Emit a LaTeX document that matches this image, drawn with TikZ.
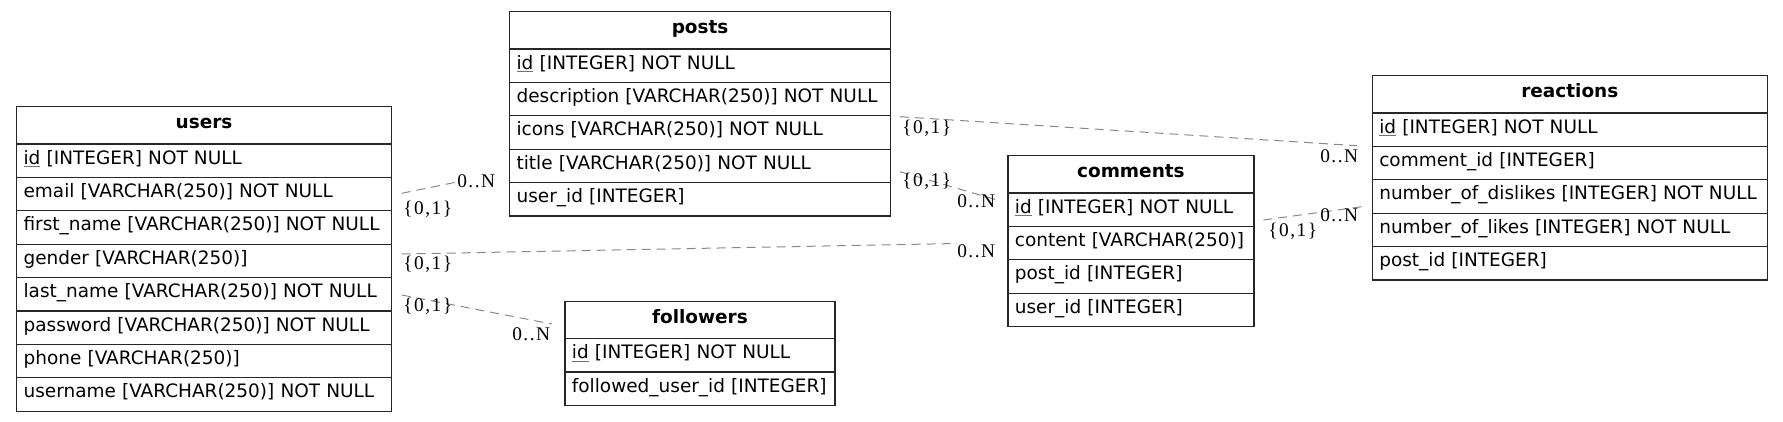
\documentclass[tikz,border=0pt]{standalone}
\usepackage{fontspec}
\setmainfont{DejaVu Sans}
\newfontfamily\lblfont[LetterSpace=8]{Liberation Serif}
\definecolor{edgegray}{HTML}{888888}
\newcommand\keyid{{\setbox0\hbox{id}\rlap{\color{black!55}\rule[-2.1pt]{\wd0}{0.6pt}}\box0}}
\tikzset{
  rowcell/.style={draw=black!85, line width=0.9pt, anchor=north west, inner xsep=5.25pt, inner ysep=0pt,
    minimum height=25.05pt, text height=9pt, text depth=3.7pt, align=left, font=\fontsize{13.85}{16}\selectfont},
  hdrcell/.style={rowcell, minimum height=27.98pt, align=center, text depth=4.2pt, font=\fontsize{13.85}{16}\selectfont\bfseries},
  reledge/.style={draw=edgegray, line width=0.75pt, dash pattern=on 6.75pt off 4.5pt},
  card/.style={anchor=base west, inner sep=0pt, font=\lblfont\fontsize{14.5}{16}\selectfont}
}
\newcommand\ertable[6]{%
  \pgfmathsetmacro\ertw{(#4-14)*0.75}%
  \node[hdrcell, text width=\ertw pt] (#1-h) at (#2,#3) {#5};
  \foreach \t [count=\i] in {#6} {
    \node[rowcell, text width=\ertw pt] (#1-\i) at (#2,#3+37.3+\i*33.4-33.4) {\mbox{\t}};
  }
}
\begin{document}
\begin{tikzpicture}[x=0.75pt,y=-0.75pt]
\useasboundingbox (0,0) rectangle (1783,421);
\ertable{users}{16}{106}{375}{users}{{\keyid{} [INTEGER] NOT NULL},{email [VARCHAR(250)] NOT NULL},{first\_name [VARCHAR(250)] NOT NULL},{gender [VARCHAR(250)]},{last\_name [VARCHAR(250)] NOT NULL},{password [VARCHAR(250)] NOT NULL},{phone [VARCHAR(250)]},{username [VARCHAR(250)] NOT NULL}}
\ertable{posts}{509}{11}{381}{posts}{{\keyid{} [INTEGER] NOT NULL},{description [VARCHAR(250)] NOT NULL},{icons [VARCHAR(250)] NOT NULL},{title [VARCHAR(250)] NOT NULL},{user\_id [INTEGER]}}
\ertable{followers}{564.3}{300.7}{270}{followers}{{\keyid{} [INTEGER] NOT NULL},{followed\_user\_id [INTEGER]}}
\ertable{comments}{1007.3}{155}{246}{comments}{{\keyid{} [INTEGER] NOT NULL},{content [VARCHAR(250)]},{post\_id [INTEGER]},{user\_id [INTEGER]}}
\ertable{reactions}{1371.7}{75}{395}{reactions}{{\keyid{} [INTEGER] NOT NULL},{comment\_id [INTEGER]},{number\_of\_dislikes [INTEGER] NOT NULL},{number\_of\_likes [INTEGER] NOT NULL},{post\_id [INTEGER]}}

% edge end points
\coordinate (a1) at (401.7,193.3); \coordinate (a2) at (457,182);
\coordinate (b1) at (401.7,254);   \coordinate (b2) at (957,243.5);
\coordinate (c1) at (401.7,295);   \coordinate (c2) at (552,324);
\coordinate (d1) at (900,116.7);   \coordinate (d2) at (1357,145.7);
\coordinate (e1) at (900,171.7);   \coordinate (e2) at (997,200);
\coordinate (f1) at (1263.3,220);  \coordinate (f2) at (1362,206.7);

\draw[reledge] (a1) -- (a2);
\draw[reledge] (b1) -- (b2);
\draw[reledge] (c1) -- (c2);
\draw[reledge] (d1) -- (d2);
\draw[reledge] (e1) -- (e2);
\draw[reledge] (f1) -- (f2);

\node[card] (at) at (403,214) {\{0,1\}};
\node[card] (ah) at (457,187) {0..N};
\node[card] (bt) at (403,269) {\{0,1\}};
\node[card] (bh) at (957,257.5) {0..N};
\node[card] (ct) at (403,311) {\{0,1\}};
\node[card] (ch) at (512,340) {0..N};
\node[card] (dt) at (902,133) {\{0,1\}};
\node[card] (dh) at (1320,162) {0..N};
\node[card] (et) at (902,186) {\{0,1\}};
\node[card] (eh) at (957,207) {0..N};
\node[card] (ft) at (1268,236) {\{0,1\}};
\node[card] (fh) at (1320,221.5) {0..N};
\end{tikzpicture}
\end{document}
